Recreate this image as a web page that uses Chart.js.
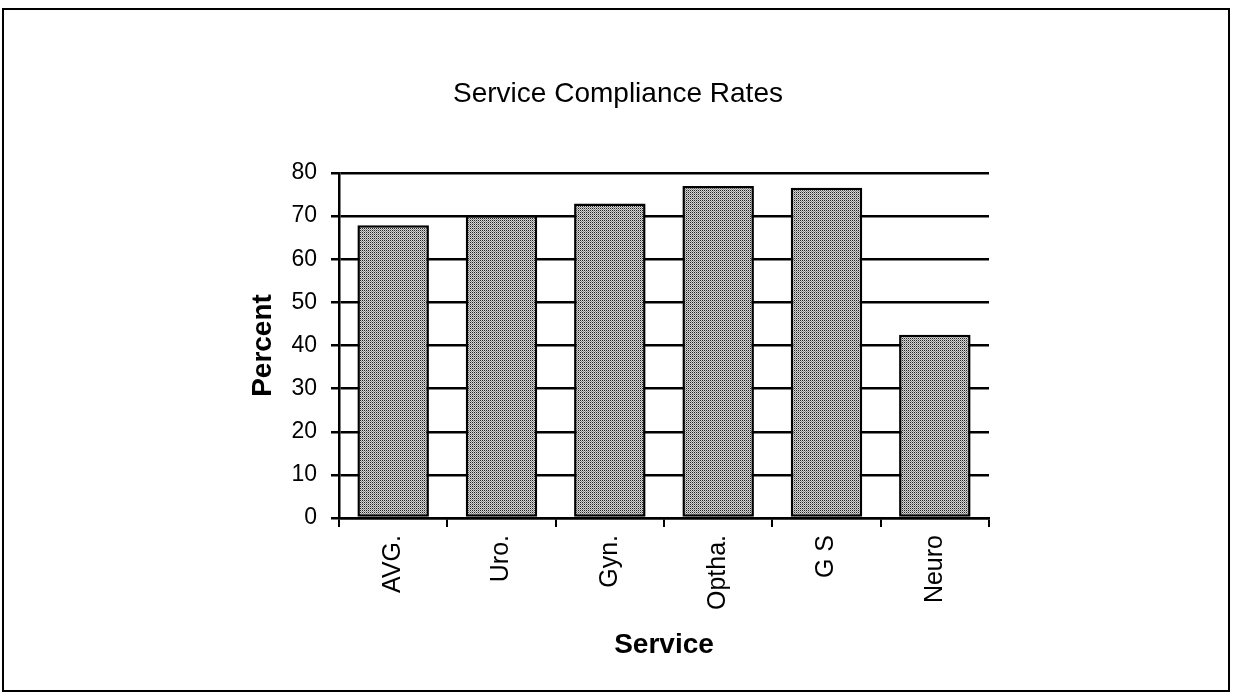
<!DOCTYPE html>
<html>
<head>
<meta charset="utf-8">
<script src="https://cdn.jsdelivr.net/npm/chart.js@4/dist/chart.umd.min.js"></script>
<style>
  body { margin: 0; background: #fff; }
  #wrap { position: relative; width: 1236px; height: 700px; }
  #frame { position: absolute; left: 2px; top: 8px; width: 1224px; height: 680px; border: 2px solid #000; pointer-events: none; }
  canvas { position: absolute; left: 0; top: 0; }
</style>
</head>
<body>
<div id="wrap">
  <canvas id="chart" width="1236" height="700"></canvas>
  <div id="frame"></div>
</div>
<script>
// data
const services = ['AVG.', 'Uro.', 'Gyn.', 'Optha.', 'G S', 'Neuro'];
const compliance = [67.9, 70.2, 72.9, 77.0, 76.6, 42.5];
const yTicks = [0, 10, 20, 30, 40, 50, 60, 70, 80];

// stippled grey fill like the old mac pattern
function makeStipple(){
    const c = document.createElement('canvas');
    c.width = 2; c.height = 2;
    const g = c.getContext('2d');
    g.fillStyle = '#d6d6d6';
    g.fillRect(0, 0, 2, 2);
    g.fillStyle = '#222';
    g.fillRect(0, 0, 1, 1);
    g.fillStyle = '#8a8a8a';
    g.fillRect(1, 1, 1, 1);
    return g.createPattern(c, 'repeat');
}

const tickFont = { family: "'Liberation Sans', Arial, sans-serif", size: 23 };
const catFont = { family: "'Liberation Sans', Arial, sans-serif", size: 25 };
const labelFont = { family: "'Liberation Sans', Arial, sans-serif", size: 28, weight: 'bold' };

const ctx = document.getElementById('chart');
const chart = new Chart(ctx, {
    type: 'bar',
    data: {
        labels: services,
        datasets: [{
            label: 'Percent',
            data: compliance,
            backgroundColor: makeStipple(),
            borderColor: '#000',
            borderWidth: 2.5,
            borderSkipped: false,
            barPercentage: 0.66,
            categoryPercentage: 1
        }]
    },
    options: {
        responsive: false,
        animation: false,
        plugins: {
            legend: { display: false },
            tooltip: { enabled: false },
            title: {
                display: true,
                text: 'Service Compliance Rates',
                color: '#000',
                font: { family: "'Liberation Sans', Arial, sans-serif", size: 28, weight: 'normal' },
                padding: { top: 77, bottom: 62.4 }
            }
        },
        scales: {
            x: {
                grid: { display: true, drawOnChartArea: false, color: '#000', lineWidth: 2, tickLength: 9, offset: true },
                border: { display: true, color: '#000', width: 2.5 },
                ticks: { color: '#000', font: catFont, maxRotation: 90, minRotation: 90, padding: 8 },
                title: { display: true, text: 'Service', color: '#000', font: labelFont, padding: { top: 0, bottom: 38 } },
                afterFit: function(scale){ scale.height = 182; }
            },
            y: {
                min: 0,
                max: 80,
                afterBuildTicks: function(scale){ scale.ticks = yTicks.map(v => ({ value: v })); },
                grid: { color: '#000', lineWidth: 2.5, tickLength: 8 },
                border: { display: true, color: '#000', width: 2.5 },
                ticks: { color: '#000', font: tickFont, padding: 14 },
                title: { display: true, text: 'Percent', color: '#000', font: labelFont, padding: { top: 246, bottom: 0 } },
                afterFit: function(scale){ scale.width = 339; }
            },
            // empty right-hand box so the plot ends where the original does
            spacer: {
                type: 'linear',
                position: 'right',
                display: true,
                grid: { display: false },
                border: { display: false },
                ticks: { display: false },
                afterFit: function(scale){ scale.width = 247; }
            }
        }
    }
});
</script>
</body>
</html>
